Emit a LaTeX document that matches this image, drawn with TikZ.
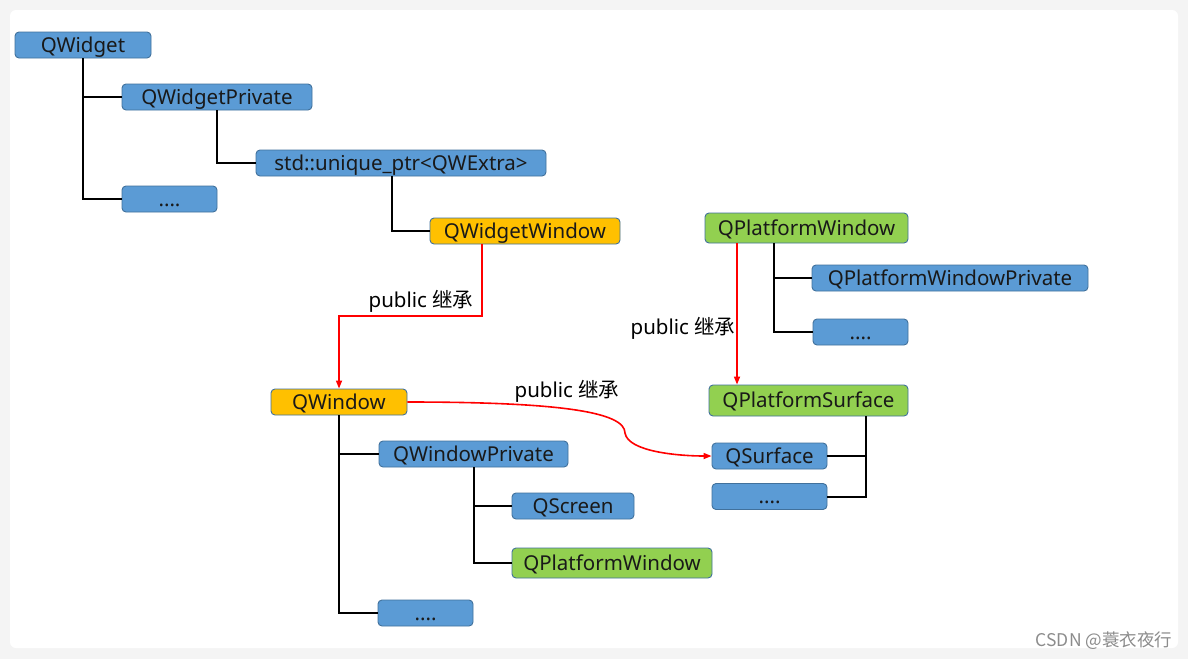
\documentclass[tikz,border=0pt]{standalone}
\usepackage{fontspec}
\setmainfont{Noto Sans}
\newfontfamily\cjk{Noto Sans CJK SC}
\usetikzlibrary{arrows.meta,calc}

\definecolor{boxblue}{HTML}{5B9BD5}
\definecolor{boxedge}{HTML}{41719C}
\definecolor{boxorange}{HTML}{FFC000}
\definecolor{boxgreen}{HTML}{92D050}
\definecolor{pagegray}{HTML}{F4F4F4}

\begin{document}
\begin{tikzpicture}[
    x=1pt, y=-1pt,
    box/.style={rectangle, draw=boxedge, line width=0.9pt, fill=boxblue, rounded corners=4pt,
                minimum height=26pt, inner sep=0pt, text centered, text height=14.6pt, text depth=0pt,
                text=black!90, font=\fontsize{20.5}{24}\selectfont},
    orangebox/.style={box, fill=boxorange},
    greenbox/.style={box, fill=boxgreen, minimum height=30pt},
    tree/.style={line width=2pt, black},
    inherit/.style={-{Triangle[length=8pt,width=6pt]}, line width=1.6pt, red},
    label/.style={font=\fontsize{20.5}{24}\selectfont}
]

% Page and frame
\useasboundingbox (0,0) rectangle (1188,659);
\fill[pagegray] (0,0) rectangle (1188,659);
\fill[white, rounded corners=6pt] (10,10) rectangle (1178,648);

% QWidget side
\node[box, minimum width=136pt] (qwidget) at (83,45) {QWidget};
\node[box, minimum width=190pt] (qwidgetpriv) at (217,97) {QWidgetPrivate};
\node[box, minimum width=290pt] (uniqptr) at (401,163) {std::unique\_ptr<QWExtra>};
\node[box, minimum width=95pt] (dotsa) at (169.5,199) {....};
\node[orangebox, minimum width=190pt] (qwwin) at (525,231) {QWidgetWindow};

% QPlatformWindow side
\node[greenbox, minimum width=203pt] (qpwin) at (806.5,228) {QPlatformWindow};
\node[box, minimum width=276pt] (qpwinpriv) at (950,278) {QPlatformWindowPrivate};
\node[box, minimum width=95pt] (dotsb) at (860.5,332) {....};
\node[greenbox, minimum width=199pt, minimum height=31pt] (qpsurf) at (808.5,400.5) {QPlatformSurface};
\node[box, minimum width=115pt] (qsurf) at (769.5,456) {QSurface};
\node[box, minimum width=115pt] (dotsc) at (769.5,496.5) {....};

% QWindow side
\node[orangebox, minimum width=136pt] (qwindow) at (339,402) {QWindow};
\node[box, minimum width=189pt] (qwinpriv) at (473.5,454) {QWindowPrivate};
\node[box, minimum width=122pt] (qscreen) at (573,506) {QScreen};
\node[greenbox, minimum width=200pt] (qpwinb) at (612,563) {QPlatformWindow};
\node[box, minimum width=95pt] (dotsd) at (425.5,613) {....};

% Ownership lines
\draw[tree] (qwidget.south) |- (qwidgetpriv.west);
\draw[tree] (qwidget.south) |- (dotsa.west);
\draw[tree] (qwidgetpriv.south) |- (uniqptr.west);
\draw[tree] ([xshift=-9pt]uniqptr.south) |- (qwwin.west);
\draw[tree] ([xshift=-32.5pt]qpwin.south) |- (qpwinpriv.west);
\draw[tree] ([xshift=-32.5pt]qpwin.south) |- (dotsb.west);
\draw[tree] ([xshift=57.5pt]qpsurf.south) |- (qsurf.east);
\draw[tree] ([xshift=57.5pt]qpsurf.south) |- (dotsc.east);
\draw[tree] (qwindow.south) |- (qwinpriv.west);
\draw[tree] (qwindow.south) |- (dotsd.west);
\draw[tree] (qwinpriv.south) |- (qscreen.west);
\draw[tree] (qwinpriv.south) |- (qpwinb.west);

% Inheritance arrows
\coordinate (turn) at (482,316);
\coordinate (kink) at (625,433);
\draw[inherit] ([xshift=-43pt]qwwin.south) -- (turn) -| (qwindow.north);
\draw[inherit] ([xshift=-69.5pt]qpwin.south) -- ([xshift=-69.5pt]qpwin.south |- qpsurf.north);
\draw[inherit] (qwindow.east) .. controls (560,402) and (625,412) .. (kink)
    .. controls (628,452) and (680,456) .. (qsurf.west);

% Labels
\node[label] (lblone) at (421,301) {public {\cjk 继承}};
\node[label] (lbltwo) at (683,328) {public {\cjk 继承}};
\node[label] (lblthree) at (567,391) {public {\cjk 继承}};
\node[font=\cjk\fontsize{17.5}{20}\selectfont, text=black!45] (mark) at (1104,641) {CSDN @蓑衣夜行};

\end{tikzpicture}
\end{document}
